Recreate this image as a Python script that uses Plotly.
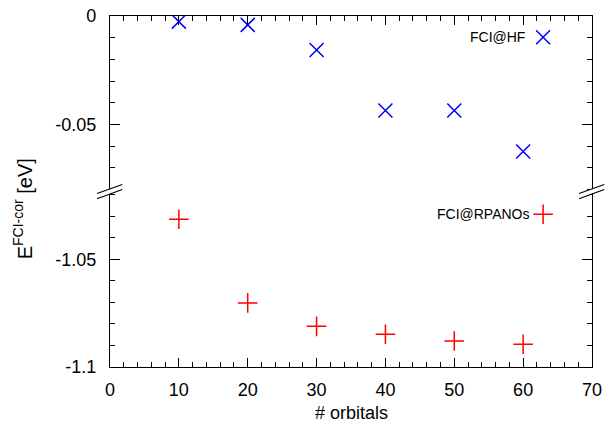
import plotly.graph_objects as go

# ---- data ----
orbitals = [10, 20, 30, 40, 50, 60]
e_fci_hf = [-0.0026, -0.0041, -0.0157, -0.0436, -0.0436, -0.0625]
e_fci_rpanos = [-1.0313, -1.0702, -1.0811, -1.0848, -1.0879, -1.0894]

series_names = ["FCI@HF", "FCI@RPANOs"]
key_x = [62.9, 62.9]
key_y = [-0.0098, -1.029]
key_text_x = [60.6, 61.35]

x_tickvals = [0, 10, 20, 30, 40, 50, 60, 70]
top_tickvals = [0, -0.05]
top_ticktext = ["0", "-0.05"]
bot_tickvals = [-1.05, -1.1]
bot_ticktext = ["-1.05", "-1.1"]

FONT = "Liberation Sans, Arial, sans-serif"
BLUE = "#0000ff"
RED = "#ff0000"
TICK_SIZE = 18

fig = go.Figure()

# top panel (FCI@HF)
fig.add_trace(go.Scatter(
    x=orbitals, y=e_fci_hf, mode="markers", xaxis="x2", yaxis="y2",
    marker=dict(symbol="x-thin", size=14, color=BLUE, line=dict(color=BLUE, width=1.5)),
    showlegend=False))
fig.add_trace(go.Scatter(
    x=[key_x[0]], y=[key_y[0]], mode="markers", xaxis="x2", yaxis="y2",
    marker=dict(symbol="x-thin", size=14, color=BLUE, line=dict(color=BLUE, width=1.5)),
    showlegend=False, hoverinfo="skip"))

# bottom panel (FCI@RPANOs)
fig.add_trace(go.Scatter(
    x=orbitals, y=e_fci_rpanos, mode="markers", xaxis="x", yaxis="y",
    marker=dict(symbol="cross-thin", size=14, color=RED, line=dict(color=RED, width=1.5)),
    showlegend=False))
fig.add_trace(go.Scatter(
    x=[key_x[1]], y=[key_y[1]], mode="markers", xaxis="x", yaxis="y",
    marker=dict(symbol="cross-thin", size=14, color=RED, line=dict(color=RED, width=1.5)),
    showlegend=False, hoverinfo="skip"))

axis_common = dict(showline=True, linecolor="black", linewidth=1.2,
                   showgrid=False, zeroline=False, ticks="inside",
                   tickcolor="black", tickwidth=1.2, automargin=False,
                   tickfont=dict(family=FONT, size=TICK_SIZE, color="black"))

fig.update_layout(
    template="none",
    width=605, height=432,
    margin=dict(l=110, r=13, t=16, b=65),
    paper_bgcolor="white", plot_bgcolor="white",
    showlegend=False,
    xaxis=dict(axis_common, domain=[0, 1], anchor="y", range=[0, 70],
               tickvals=x_tickvals, ticklen=9, ticklabelstandoff=6,
               minor=dict(ticks="inside", dtick=2, tick0=0, ticklen=5,
                          tickcolor="black", tickwidth=1.2, showgrid=False)),
    xaxis2=dict(axis_common, domain=[0, 1], anchor="y2", side="top",
                matches="x", range=[0, 70], tickvals=x_tickvals,
                showticklabels=False, ticklen=9,
                minor=dict(ticks="inside", dtick=2, tick0=0, ticklen=5,
                           tickcolor="black", tickwidth=1.2, showgrid=False)),
    yaxis=dict(axis_common, domain=[0, 0.5], anchor="x", range=[-1.1, -1.0184],
               tickvals=bot_tickvals, ticktext=bot_ticktext, mirror="ticks",
               ticklen=10, ticklabelstandoff=9,
               minor=dict(ticks="inside", dtick=0.01, tick0=-1.1, ticklen=5,
                          tickcolor="black", tickwidth=1.2, showgrid=False)),
    yaxis2=dict(axis_common, domain=[0.5, 1], anchor="x2", range=[-0.0809, 0],
                tickvals=top_tickvals, ticktext=top_ticktext, mirror="ticks",
                ticklen=10, ticklabelstandoff=9,
                minor=dict(ticks="inside", dtick=0.01, tick0=0, ticklen=5,
                           tickcolor="black", tickwidth=1.2, showgrid=False)),
)

# key labels
fig.add_annotation(x=key_text_x[0], y=key_y[0], xref="x2", yref="y2",
                   text=series_names[0], showarrow=False, xanchor="right",
                   yanchor="middle", font=dict(family=FONT, size=14, color="black"))
fig.add_annotation(x=key_text_x[1], y=key_y[1], xref="x", yref="y",
                   text=series_names[1], showarrow=False, xanchor="right",
                   yanchor="middle", font=dict(family=FONT, size=14, color="black"))

# axis titles
fig.add_annotation(x=0.5, y=-0.131, xref="paper", yref="paper",
                   text="# orbitals", showarrow=False, xanchor="center",
                   yanchor="middle", font=dict(family=FONT, size=18, color="black"))
fig.add_annotation(x=-0.182, y=0.45, xref="paper", yref="paper",
                   text="E<sup>FCI-cor</sup> [eV]", showarrow=False, textangle=-90,
                   xanchor="center", yanchor="middle",
                   font=dict(family=FONT, size=20, color="black"))

# axis-break marks
for xa in [0, 1]:
    fig.add_shape(type="path", xref="paper", yref="paper",
                  xsizemode="pixel", ysizemode="pixel", xanchor=xa, yanchor=0.5,
                  path="M -13,-7 L 12,2 L 12,7 L -13,-2 Z",
                  fillcolor="white", line=dict(width=0), layer="above")
    fig.add_shape(type="path", xref="paper", yref="paper",
                  xsizemode="pixel", ysizemode="pixel", xanchor=xa, yanchor=0.5,
                  path="M -13,-7.3 L 12.3,2", line=dict(color="black", width=1.2),
                  layer="above")
    fig.add_shape(type="path", xref="paper", yref="paper",
                  xsizemode="pixel", ysizemode="pixel", xanchor=xa, yanchor=0.5,
                  path="M -13,-2 L 12.3,7", line=dict(color="black", width=1.2),
                  layer="above")

fig.write_html("out.html", config={"displayModeBar": False},
               post_script="document.body.style.margin='0';")
